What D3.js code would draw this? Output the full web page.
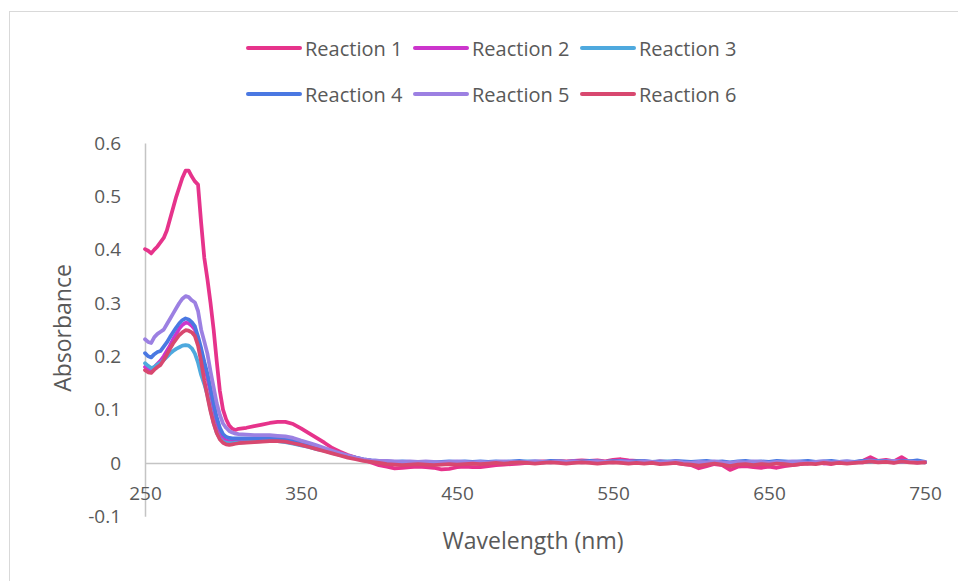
<!DOCTYPE html>
<html>
<head>
<meta charset="utf-8">
<script src="https://cdn.jsdelivr.net/npm/d3@7"></script>
<style>
  html, body { margin: 0; padding: 0; background: #ffffff; }
  svg { display: block; }
  text { font-family: "Open Sans", "Noto Sans", sans-serif; fill: #595959; }
</style>
</head>
<body>
<svg id="chart" width="958" height="581"></svg>
<script>
// ---------------- DATA ----------------
const wavelengths = [
  250,252,254,256,258,260,262,264,266,268,270,272,274,276,278,280,282,284,286,288,290,292,294,296,298,300,302,304,306,308,310,
  315,320,325,330,335,340,345,350,355,360,365,370,375,380,385,390,395,400,
  405,410,415,420,425,430,435,440,445,450,455,460,465,470,475,480,485,490,495,500,
  505,510,515,520,525,530,535,540,545,550,555,560,565,570,575,580,585,590,595,600,
  605,610,615,620,625,630,635,640,645,650,655,660,665,670,675,680,685,690,695,700,
  705,710,715,720,725,730,735,740,745,750
];

const seriesNames = ["Reaction 1","Reaction 2","Reaction 3","Reaction 4","Reaction 5","Reaction 6"];
const seriesColors = ["#e6338b","#cc35cc","#4ea9de","#4a78e2","#9c80e2","#d8486f"];

const reaction1 = [
  0.401,0.398,0.393,0.400,0.406,0.414,0.422,0.436,0.457,0.478,0.499,0.517,0.535,0.548,0.548,0.537,0.528,0.522,0.450,0.385,0.345,0.300,0.250,0.190,0.135,0.100,0.082,0.070,0.064,0.062,0.064,
  0.066,0.069,0.072,0.075,0.077,0.077,0.073,0.065,0.056,0.047,0.038,0.028,0.021,0.015,0.010,0.006,0.001,-0.004,
  -0.007,-0.010,-0.009,-0.008,-0.007,-0.008,-0.009,-0.012,-0.011,-0.008,
  -0.007,-0.008,-0.008,-0.006,-0.004,-0.003,-0.002,-0.001,0.000,0.002,
  0.003,0.002,0.004,0.003,0.004,0.005,0.004,0.005,0.003,0.006,
  0.007,0.005,0.004,0.002,0.001,0.003,0.002,0.000,-0.002,-0.004,
  -0.010,-0.006,-0.002,-0.004,-0.013,-0.007,-0.006,-0.008,-0.009,-0.007,
  -0.009,-0.006,-0.004,-0.002,0.000,0.002,0.000,-0.002,0.001,0.000,
  0.001,0.004,0.011,0.004,0.006,0.003,0.011,0.002,0.003,0.001
];
const reaction2 = [
  0.180,0.176,0.174,0.180,0.186,0.192,0.200,0.210,0.220,0.232,0.242,0.252,0.259,0.263,0.262,0.257,0.250,0.232,0.210,0.185,0.160,0.132,0.102,0.076,0.058,0.047,0.042,0.041,0.041,0.042,0.042,
  0.043,0.043,0.044,0.045,0.044,0.043,0.040,0.036,0.032,0.028,0.024,0.020,0.016,0.012,0.009,0.006,0.004,0.003,
  0.002,0.001,0.000,-0.001,0.000,-0.001,0.000,-0.002,-0.001,0.000,
  -0.001,0.000,0.001,0.000,0.001,0.000,0.001,0.002,0.001,0.002,
  0.001,0.003,0.002,0.001,0.003,0.002,0.003,0.002,0.001,0.003,
  0.002,0.004,0.002,0.001,0.002,0.000,0.001,0.002,0.000,-0.001,
  -0.004,-0.002,0.000,-0.002,-0.005,-0.002,0.000,-0.003,-0.001,-0.002,
  0.000,-0.001,-0.003,0.000,-0.001,0.001,-0.001,0.000,0.001,0.000,
  0.002,0.001,0.004,0.002,0.003,0.001,0.005,0.002,0.001,0.002
];
const reaction3 = [
  0.187,0.182,0.178,0.180,0.185,0.188,0.193,0.199,0.205,0.210,0.214,0.217,0.220,0.221,0.220,0.215,0.205,0.188,0.165,0.148,0.128,0.100,0.075,0.057,0.046,0.040,0.038,0.037,0.037,0.038,0.038,
  0.039,0.040,0.041,0.042,0.041,0.039,0.036,0.033,0.030,0.026,0.023,0.019,0.015,0.012,0.009,0.006,0.004,0.003,
  0.002,0.001,0.001,0.000,0.001,0.000,-0.001,0.000,0.001,0.000,
  0.001,0.002,0.001,0.002,0.001,0.002,0.001,0.002,0.003,0.002,
  0.001,0.002,0.003,0.002,0.001,0.003,0.002,0.001,0.002,0.003,
  0.001,0.002,0.003,0.002,0.001,0.002,0.003,0.001,0.002,0.001,
  -0.001,0.002,0.001,0.000,-0.002,0.001,0.002,0.000,0.001,0.002,
  0.000,0.001,0.000,0.002,0.001,0.000,0.002,0.001,0.002,0.001,
  0.002,0.003,0.002,0.004,0.002,0.003,0.002,0.004,0.002,0.001
];
const reaction4 = [
  0.206,0.200,0.198,0.204,0.208,0.210,0.218,0.226,0.236,0.245,0.254,0.262,0.268,0.271,0.269,0.264,0.256,0.237,0.215,0.190,0.168,0.140,0.112,0.085,0.066,0.054,0.049,0.047,0.046,0.046,0.046,
  0.046,0.046,0.047,0.047,0.046,0.045,0.042,0.038,0.034,0.030,0.026,0.021,0.017,0.013,0.010,0.007,0.005,0.004,
  0.003,0.002,0.003,0.002,0.001,0.002,0.001,0.002,0.003,0.002,
  0.003,0.002,0.003,0.002,0.003,0.002,0.003,0.004,0.002,0.003,
  0.002,0.004,0.003,0.002,0.003,0.002,0.004,0.003,0.002,0.003,
  0.004,0.002,0.003,0.004,0.002,0.003,0.002,0.004,0.003,0.002,
  0.003,0.004,0.002,0.003,0.001,0.003,0.004,0.002,0.003,0.002,
  0.004,0.003,0.002,0.003,0.004,0.002,0.003,0.004,0.002,0.003,
  0.002,0.004,0.005,0.003,0.004,0.002,0.004,0.003,0.005,0.002
];
const reaction5 = [
  0.232,0.227,0.225,0.236,0.242,0.246,0.250,0.260,0.270,0.280,0.290,0.300,0.308,0.313,0.311,0.305,0.301,0.285,0.250,0.228,0.205,0.172,0.142,0.112,0.090,0.074,0.066,0.060,0.057,0.055,0.054,
  0.053,0.052,0.052,0.052,0.051,0.050,0.047,0.042,0.038,0.033,0.028,0.023,0.018,0.014,0.010,0.007,0.005,0.004,
  0.004,0.003,0.002,0.003,0.002,0.003,0.002,0.001,0.002,0.003,
  0.002,0.001,0.002,0.001,0.002,0.003,0.002,0.001,0.002,0.003,
  0.002,0.001,0.003,0.002,0.003,0.001,0.002,0.003,0.002,0.001,
  0.003,0.002,0.001,0.003,0.002,0.001,0.002,0.003,0.001,0.000,
  0.002,0.001,0.003,0.001,0.000,0.002,0.001,0.003,0.002,0.000,
  0.002,0.001,0.003,0.002,0.000,0.002,0.003,0.001,0.002,0.003,
  0.001,0.002,0.004,0.002,0.003,0.004,0.002,0.003,0.001,0.002
];
const reaction6 = [
  0.174,0.170,0.169,0.175,0.180,0.184,0.193,0.203,0.214,0.224,0.232,0.240,0.245,0.249,0.248,0.245,0.238,0.220,0.190,0.155,0.125,0.097,0.074,0.056,0.044,0.038,0.035,0.034,0.035,0.036,0.037,
  0.038,0.039,0.040,0.041,0.041,0.040,0.037,0.034,0.030,0.026,0.022,0.018,0.014,0.010,0.007,0.004,0.002,0.000,
  -0.002,-0.003,-0.004,-0.003,-0.002,-0.003,-0.004,-0.003,-0.002,-0.003,
  -0.002,-0.001,-0.002,-0.001,0.000,-0.001,0.000,0.001,0.000,-0.001,
  0.000,0.001,0.000,-0.001,0.000,0.001,0.000,-0.001,0.000,0.001,
  0.000,-0.001,0.000,-0.001,0.000,-0.002,-0.001,0.000,-0.002,-0.003,
  -0.005,-0.003,-0.001,-0.003,-0.006,-0.003,-0.002,-0.004,-0.002,-0.003,
  -0.001,-0.002,-0.004,-0.002,-0.001,-0.002,0.000,-0.001,0.000,-0.001,
  0.000,0.001,0.003,0.001,0.002,0.000,0.003,0.001,0.000,0.001
];

const xTicks = [250, 350, 450, 550, 650, 750];
const yTicks = [-0.1, 0, 0.1, 0.2, 0.3, 0.4, 0.5, 0.6];
const xTitle = "Wavelength (nm)";
const yTitle = "Absorbance";

// ---------------- CHART ----------------
const allSeries = [reaction1, reaction2, reaction3, reaction4, reaction5, reaction6];
const svg = d3.select("#chart");

// outer chart border
svg.append("rect")
  .attr("x", 9.5).attr("y", 11.5)
  .attr("width", 970).attr("height", 600)
  .attr("fill", "none").attr("stroke", "#d9d9d9").attr("stroke-width", 1);

const x = d3.scaleLinear().domain([250, 750]).range([145, 925]);
const y = d3.scaleLinear().domain([-0.1, 0.6]).range([516.3, 143]);

// y axis
const yAxis = svg.append("g")
  .attr("transform", `translate(${x(250)},0)`)
  .call(d3.axisLeft(y).tickValues(yTicks).tickSize(0).tickSizeOuter(0).tickPadding(24)
        .tickFormat(d => String(+d.toFixed(1))));
yAxis.select(".domain").attr("stroke", "#c4c4c4").attr("stroke-width", 1.5);
yAxis.selectAll("text").style("font-size", "19px").attr("fill", "#595959")
  .style("font-family", '"Open Sans", sans-serif');

// x axis at y = 0
const xAxis = svg.append("g")
  .attr("transform", `translate(0,${y(0)})`)
  .call(d3.axisBottom(x).tickValues(xTicks).tickSize(0).tickSizeOuter(0).tickPadding(24)
        .tickFormat(d => String(d)));
xAxis.select(".domain").attr("stroke", "#c4c4c4").attr("stroke-width", 1.5);
xAxis.selectAll("text").style("font-size", "19px").attr("fill", "#595959")
  .style("font-family", '"Open Sans", sans-serif');

// lines
const line = d3.line()
  .x((d, i) => x(wavelengths[i]))
  .y(d => y(d))
  .curve(d3.curveLinear);

svg.append("g").selectAll("path")
  .data(allSeries)
  .join("path")
  .attr("d", d => line(d))
  .attr("fill", "none")
  .attr("stroke", (d, i) => seriesColors[i])
  .attr("stroke-width", 3.75)
  .attr("stroke-linejoin", "round")
  .attr("stroke-linecap", "round");

// axis titles
svg.append("text")
  .attr("x", 533).attr("y", 540)
  .attr("text-anchor", "middle").attr("dominant-baseline", "central")
  .style("font-size", "23px")
  .text(xTitle);

svg.append("text")
  .attr("transform", "translate(62,328) rotate(-90)")
  .attr("text-anchor", "middle").attr("dominant-baseline", "central")
  .style("font-size", "23px")
  .text(yTitle);

// legend
const legendCols = [247, 414, 581];
const legendRows = [48, 94];
const legend = svg.append("g");
seriesNames.forEach((name, i) => {
  const lx = legendCols[i % 3];
  const ly = legendRows[Math.floor(i / 3)];
  const g = legend.append("g").attr("transform", `translate(${lx},${ly})`);
  g.append("line")
    .attr("x1", 1).attr("x2", 53).attr("y1", 0).attr("y2", 0)
    .attr("stroke", seriesColors[i]).attr("stroke-width", 4)
    .attr("stroke-linecap", "round");
  g.append("text")
    .attr("x", 58).attr("y", 0)
    .attr("dominant-baseline", "central")
    .style("font-size", "20px")
    .text(name);
});
</script>
</body>
</html>
